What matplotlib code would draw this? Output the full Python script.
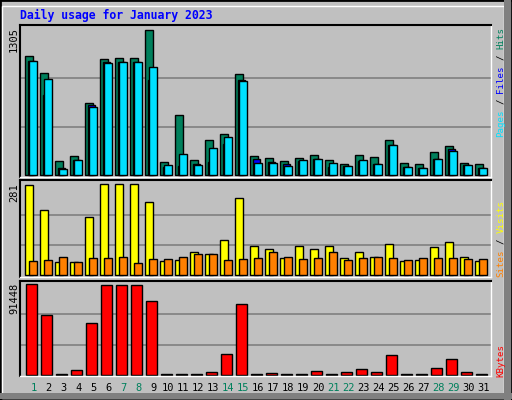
import matplotlib
matplotlib.use("Agg")
import matplotlib.pyplot as plt
from matplotlib.patches import Rectangle

days = list(range(1, 32))
weekend = [1, 7, 8, 14, 15, 21, 22, 28, 29]
hits = [1066, 915, 127, 174, 650, 1039, 1048, 1048, 1305, 118, 543, 136, 313, 366, 906,
        174, 154, 127, 154, 180, 136, 100, 180, 162, 313, 109, 100, 207, 260, 109, 100]
files = [1024, 715, 68, 139, 626, 1013, 1016, 1010, 856, 77, 83, 100, 118, 280, 853,
         145, 118, 100, 127, 145, 71, 83, 127, 100, 269, 74, 65, 145, 233, 92, 65]
pages = [1024, 862, 56, 139, 608, 1004, 1013, 1013, 968, 92, 189, 92, 242, 340, 844,
         112, 109, 86, 136, 145, 109, 83, 136, 100, 269, 74, 65, 145, 215, 92, 65]
visits = [278, 202, 40, 40, 180, 281, 281, 281, 226, 43, 46, 73, 67, 110, 238,
          89, 82, 55, 89, 82, 89, 52, 73, 58, 98, 43, 46, 86, 104, 58, 43]
sites = [43, 46, 58, 40, 52, 52, 58, 37, 49, 49, 58, 67, 67, 46, 49,
         55, 73, 58, 49, 55, 73, 46, 55, 58, 55, 46, 52, 52, 55, 49, 49]
kbytes = [91448, 60400, 1300, 5300, 52400, 90400, 90400, 90400, 74400, 1300, 1300, 1300, 3300, 21400, 71400,
          1300, 2300, 1300, 1300, 4300, 1300, 3300, 6300, 3300, 20400, 1300, 1300, 7300, 16400, 3300, 1300]

BG = "#C0C0C0"
C_HITS, C_FILES, C_PAGES = "#00805C", "#0000FF", "#00E0FF"
C_VISITS, C_SITES, C_KB = "#FFFF00", "#FF8000", "#FF0000"
MONO = "DejaVu Sans Mono"

W, H = 512, 400
fig = plt.figure(figsize=(W / 100, H / 100), dpi=100, facecolor=BG)

def px_axes(x0, y0, x1, y1):
    return fig.add_axes([x0 / W, 1 - y1 / H, (x1 - x0) / W, (y1 - y0) / H])

def style(ax, ytop, vmax):
    ax.set_facecolor(BG)
    ax.set_xlim(0, 31.4)
    ax.set_ylim(-0.012 * ytop, ytop)
    ax.set_xticks([])
    ax.set_yticks([])
    for y in (vmax / 3, vmax * 2 / 3):
        ax.axhline(y, color="#808080", lw=1.2, zorder=0)
    for s in ("top", "left"):
        ax.spines[s].set_color("black")
        ax.spines[s].set_linewidth(1.5)
    for s in ("bottom", "right"):
        ax.spines[s].set_color("white")
        ax.spines[s].set_linewidth(1)

x = [d - 1 for d in days]
kw = dict(align="edge", edgecolor="black", linewidth=1)

ax1 = px_axes(20, 25, 491, 177)
style(ax1, 1346, 1305)
ax1.bar([v + 0.353 for v in x], hits, 0.49, color=C_HITS, **kw)
ax1.bar([v + 0.51 for v in x], files, 0.49, color=C_FILES, **kw)
ax1.bar([v + 0.62 for v in x], pages, 0.49, color=C_PAGES, **kw)

ax2 = px_axes(20, 180, 491, 276.5)
style(ax2, 294, 281)
ax2.bar([v + 0.353 for v in x], visits, 0.52, color=C_VISITS, **kw)
ax2.bar([v + 0.62 for v in x], sites, 0.49, color=C_SITES, **kw)

ax3 = px_axes(20, 280.5, 491, 376)
style(ax3, 95000, 91448)
ax3.bar([v + 0.42 for v in x], kbytes, 0.69, color=C_KB, **kw)

def ftext(xp, yp, s, **k):
    fig.text(xp / W, 1 - yp / H, s, family=MONO, **k)

ftext(20, 15, "Daily usage for January 2023", color="#0000FF", fontsize=8.3,
      fontweight="bold", va="center", ha="left")

for yp, s in ((27, "1305"), (183, "281"), (283, "91448")):
    ftext(14, yp, s, rotation=90, va="top", ha="center", fontsize=7.5, color="black")

for d in days:
    xp = 20 + (d - 1 + 0.89) * 15
    ftext(xp, 388, str(d), ha="center", va="center", fontsize=7.5,
          color=C_HITS if d in weekend else "black")

# right side rotated labels, one string per panel with coloured pieces
def right_label(bottom, parts, step=5.5):
    y = bottom
    for s, c in parts:
        st = s.strip()
        lead = len(s) - len(s.lstrip())
        ftext(501, y - step * lead, st, rotation=90, ha="center", va="bottom",
              fontsize=6.6, color=c)
        y -= step * len(s)

right_label(137, [("Pages", C_PAGES), (" /", "black"), (" Files", C_FILES),
                  (" /", "black"), (" Hits", C_HITS)])
right_label(277, [("Sites", C_SITES), (" /", "black"), (" Visits", C_VISITS)])
right_label(377, [("KBytes", C_KB)])

# bevelled outer frame
fig.patches.append(Rectangle((0, 0), 1, 1, transform=fig.transFigure, fill=False,
                             edgecolor="black", lw=2))
fig.patches.append(Rectangle((2 / W, 2 / H), (W - 10) / W, (H - 8) / H, transform=fig.transFigure,
                             fill=False, edgecolor="white", lw=1))
fig.patches.append(Rectangle((1 - 8 / W, 0), 7 / W, 1, transform=fig.transFigure,
                             color="#808080", lw=0))
fig.patches.append(Rectangle((0, 1 / H), 1, 6 / H, transform=fig.transFigure,
                             color="#808080", lw=0))

fig.savefig("out.png", dpi=100, facecolor=BG)
